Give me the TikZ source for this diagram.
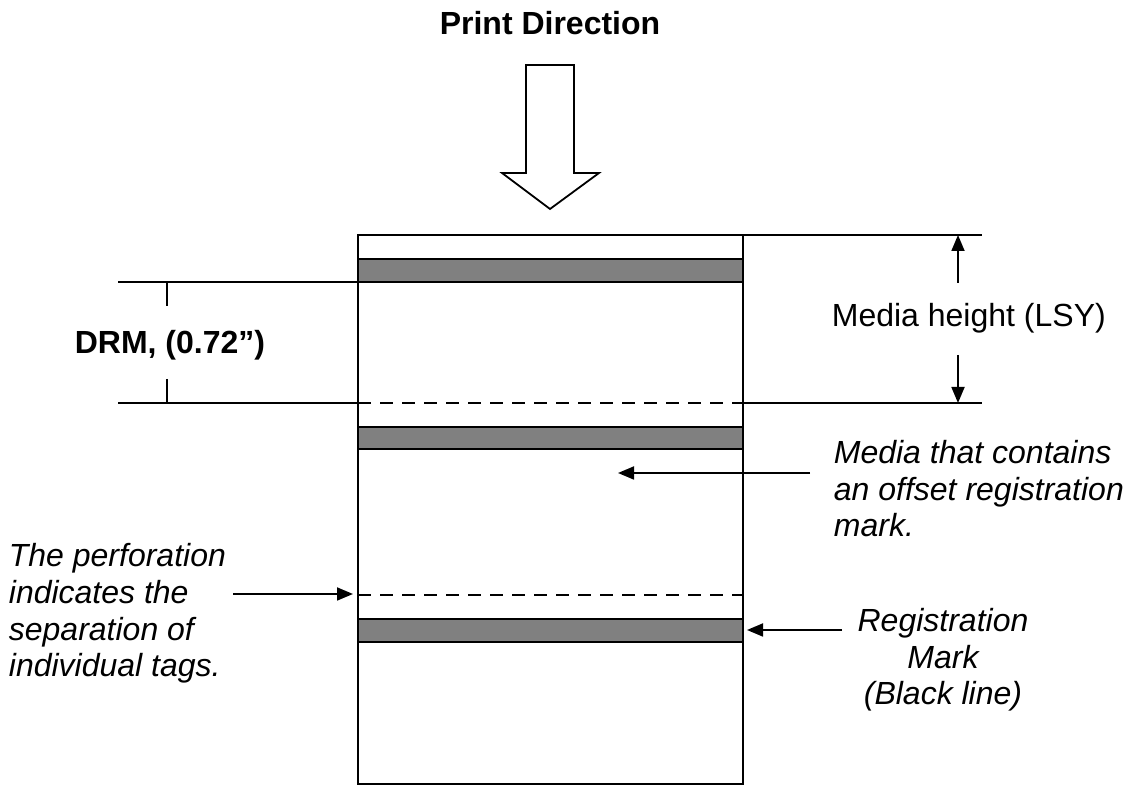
\documentclass[tikz,border=0pt]{standalone}
\usepackage{fontspec}
\setmainfont{Liberation Sans}
\usetikzlibrary{arrows.meta}

\begin{document}
\begin{tikzpicture}[x=0.5pt,y=-0.5pt,line width=0.9pt,
  every node/.style={font=\fontsize{16}{18.4}\selectfont, inner sep=0pt},
  note/.style={font=\fontsize{16}{18.4}\selectfont\itshape, align=left, anchor=base west},
  heading/.style={font=\fontsize{16}{18.4}\selectfont\bfseries, anchor=base},
  pointer/.style={-{Triangle[length=8pt,width=6.5pt]}},
  mark bar/.style={draw, fill=gray},
  perf/.style={dash pattern=on 6.5pt off 4.5pt}]
  \useasboundingbox (0,0) rectangle (1126,785);
  % print direction
  \node[heading] (title) at (550,35) {Print Direction};
  \draw (526,65) -- (574,65) -- (574,173) -- (599,173) -- (550,209)
    -- (502,173) -- (526,173) -- cycle;
  % media
  \coordinate (media nw) at (358,235);
  \coordinate (media se) at (743,784);
  \draw (media nw) rectangle (media se);
  \draw[mark bar] (358,259) rectangle (743,282);
  \draw[mark bar] (358,427) rectangle (743,449);
  \draw[mark bar] (358,619) rectangle (743,642);
  \draw[perf] (358,403) -- (743,403);
  \draw[perf] (358,595) -- (743,595);
  % dimension lines
  \draw (743,235) -- (982,235);
  \draw (743,403) -- (982,403);
  \draw (118,282) -- (358,282);
  \draw (118,403) -- (358,403);
  \draw (167,282) -- (167,306);
  \draw (167,379) -- (167,403);
  \node[heading] (drm) at (170,354) {DRM, (0.72”)};
  \node[anchor=base west] (lsy) at (831,327) {Media height (LSY)};
  \coordinate (lsy up) at (958,283);
  \coordinate (lsy top) at (958,235);
  \coordinate (lsy down) at (958,355);
  \coordinate (lsy bottom) at (958,403);
  \draw[pointer] (lsy up) -- (lsy top);
  \draw[pointer] (lsy down) -- (lsy bottom);
  % notes (base = last line)
  \node[note] (offset) at (833,537) {Media that contains\\an offset registration\\mark.};
  \node[note] (perforation) at (8,677) {The perforation\\indicates the\\separation of\\individual tags.};
  \node[note, align=center, anchor=base] (reg) at (943,705) {Registration\\Mark\\(Black line)};
  \coordinate (offset from) at (810,473);
  \coordinate (offset to) at (618,473);
  \coordinate (perforation from) at (233,594);
  \coordinate (perforation to) at (353,594);
  \coordinate (reg from) at (842,630);
  \coordinate (reg to) at (747,630);
  \draw[pointer] (offset from) -- (offset to);
  \draw[pointer] (perforation from) -- (perforation to);
  \draw[pointer] (reg from) -- (reg to);
\end{tikzpicture}
\end{document}
